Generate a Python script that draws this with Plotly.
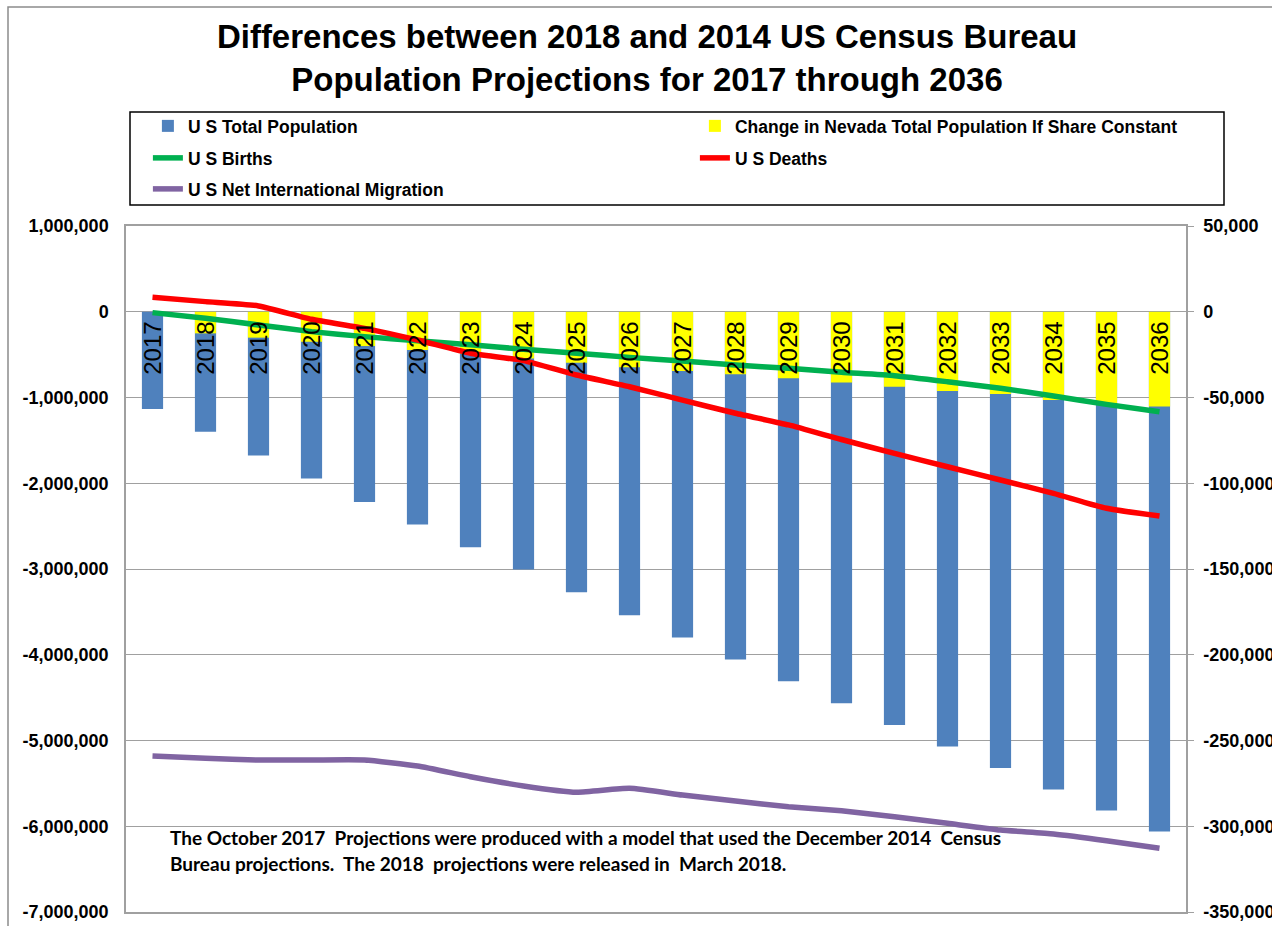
import plotly.graph_objects as go

# values
years = [str(y) for y in range(2017, 2037)]

us_total = [-1135000, -1400000, -1675000, -1945000, -2220000, -2480000, -2745000,
            -3005000, -3270000, -3540000, -3800000, -4055000, -4310000, -4565000,
            -4820000, -5070000, -5320000, -5570000, -5815000, -6060000]

nevada_change = [0, -12600, -15100, -17500, -20000, -22300, -24300, -27200, -29700,
                 -32400, -34600, -36500, -38800, -41300, -43700, -46200, -48000,
                 -51500, -53400, -55300]

us_births = [-500, -3800, -7700, -11600, -14500, -16900, -19200, -21900, -24200,
             -26600, -28700, -31000, -33000, -35300, -37300, -40800, -44600, -49100,
             -54000, -58300]

us_deaths = [8400, 5900, 3400, -4400, -9700, -16500, -24200, -28500, -36900, -43700,
             -51500, -59200, -66000, -74500, -82600, -90400, -98100, -105900, -114600,
             -119100]

us_migration = [-259000, -260400, -261400, -261400, -261400, -264900, -271100, -276500,
                -280200, -277900, -281800, -285300, -288600, -291000, -294400, -298300,
                -302200, -304500, -308400, -312800]

left_ticks = [1000000, 0, -1000000, -2000000, -3000000, -4000000, -5000000, -6000000, -7000000]
left_labels = ["1,000,000", "0", "-1,000,000", "-2,000,000", "-3,000,000", "-4,000,000",
               "-5,000,000", "-6,000,000", "-7,000,000"]
right_ticks = [50000, 0, -50000, -100000, -150000, -200000, -250000, -300000, -350000]
right_labels = ["50,000", "0", "-50,000", "-100,000", "-150,000", "-200,000", "-250,000",
                "-300,000", "-350,000"]

title = "Differences between 2018 and 2014 US Census Bureau<br>Population Projections for 2017 through 2036"
note_lines = ["The October 2017  Projections were produced with a model that used the December 2014  Census",
              "Bureau projections.  The 2018  projections were released in  March 2018."]

W, H = 1272, 926
L, R, T, B = 126, 86, 226, 14
PW, PH = W - L - R, H - T - B


def px_x(x):
    return (x - L) / PW


def px_y(y):
    return (H - B - y) / PH


AXIS_GREY = "#A0A0A0"
legend_font = dict(family="Arial", size=17.5, color="black", weight="bold")

fig = go.Figure()
fig.add_trace(go.Bar(x=years, y=us_total, name="U S Total Population", yaxis="y",
                     width=0.4, marker=dict(color="#4F81BD", line=dict(width=0)),
                     legend="legend"))
fig.add_trace(go.Bar(x=years, y=nevada_change, name="Change in Nevada Total Population If Share Constant",
                     yaxis="y2", width=0.4, marker=dict(color="#FFFF00", line=dict(width=0)),
                     legend="legend"))
fig.add_trace(go.Scatter(x=years, y=us_births, name="U S Births", yaxis="y2", mode="lines",
                         line=dict(color="#00B050", width=5.5, shape="spline", smoothing=0.5),
                         legend="legend2"))
fig.add_trace(go.Scatter(x=years, y=us_deaths, name="U S Deaths", yaxis="y2", mode="lines",
                         line=dict(color="#FF0000", width=5.5, shape="spline", smoothing=0.5),
                         legend="legend2"))
fig.add_trace(go.Scatter(x=years, y=us_migration, name="U S Net International Migration",
                         yaxis="y2", mode="lines",
                         line=dict(color="#8064A2", width=5.5, shape="spline", smoothing=0.5),
                         legend="legend3"))

legend_common = dict(orientation="h", x=-0.0001, xanchor="left", yanchor="middle",
                     font=legend_font, entrywidth=480, entrywidthmode="pixels",
                     indentation=22, bgcolor="rgba(0,0,0,0)", borderwidth=0,
                     traceorder="normal")

tick_font = dict(family="Arial", size=18, color="black", weight="bold")

fig.update_layout(
    width=W, height=H,
    margin=dict(l=L, r=R, t=T, b=B, autoexpand=False),
    paper_bgcolor="white", plot_bgcolor="white",
    barmode="overlay",
    title=dict(text=title, x=647 / W, xanchor="center",
               y=1 - 48 / H, yanchor="top",
               font=dict(family="Arial", size=33, color="black", weight="bold")),
    xaxis=dict(type="category", range=[-0.5, 19.5], showticklabels=False, ticks="",
               showline=True, linecolor=AXIS_GREY, linewidth=1.5, mirror=True,
               showgrid=False, zeroline=False),
    yaxis=dict(range=[-7000000, 1000000], tickvals=left_ticks, ticktext=left_labels,
               tickfont=tick_font, ticks="", ticklabelstandoff=12,
               showline=True, linecolor=AXIS_GREY, linewidth=1.5,
               showgrid=True, gridcolor=AXIS_GREY, gridwidth=1, zeroline=False),
    yaxis2=dict(range=[-350000, 50000], tickvals=right_ticks, ticktext=right_labels,
                tickfont=tick_font, ticks="outside", ticklen=6, tickcolor=AXIS_GREY,
                ticklabelstandoff=6,
                overlaying="y", side="right", showline=True, linecolor=AXIS_GREY,
                linewidth=1.5, showgrid=False, zeroline=False),
    legend=dict(legend_common, y=px_y(126)),
    legend2=dict(legend_common, y=px_y(158)),
    legend3=dict(legend_common, y=px_y(189)),
    showlegend=True,
)

# year labels hang from the zero line, like Excel's category axis labels
# (category index used for x, numeric-looking names are not matched as categories)
for i, yr in enumerate(years):
    fig.add_annotation(text=yr, x=i, y=0, xref="x", yref="y", yanchor="top",
                       textangle=-90, showarrow=False, yshift=-8,
                       font=dict(family="Arial", size=24, color="black"))

# legend frame and chart-area border
fig.add_shape(type="rect", xref="paper", yref="paper",
              x0=px_x(130), x1=px_x(1224), y0=px_y(205), y1=px_y(112),
              line=dict(color="black", width=1.5), fillcolor="rgba(0,0,0,0)", layer="above")
fig.add_shape(type="rect", xref="paper", yref="paper",
              x0=px_x(8), x1=px_x(1280), y0=px_y(940), y1=px_y(7),
              line=dict(color="#8C8C8C", width=1.5), fillcolor="rgba(0,0,0,0)", layer="below")

for text, yc in zip(note_lines, [837, 863]):
    fig.add_annotation(text=text, xref="paper", yref="paper",
                       x=px_x(168), y=px_y(yc), xanchor="left", yanchor="middle",
                       showarrow=False, align="left",
                       font=dict(family="Lato, Calibri, Arial", size=19, color="black",
                                 weight="bold"))

fig.write_html("out.html", config={"displayModeBar": False},
               post_script="document.body.style.margin = '0';")
